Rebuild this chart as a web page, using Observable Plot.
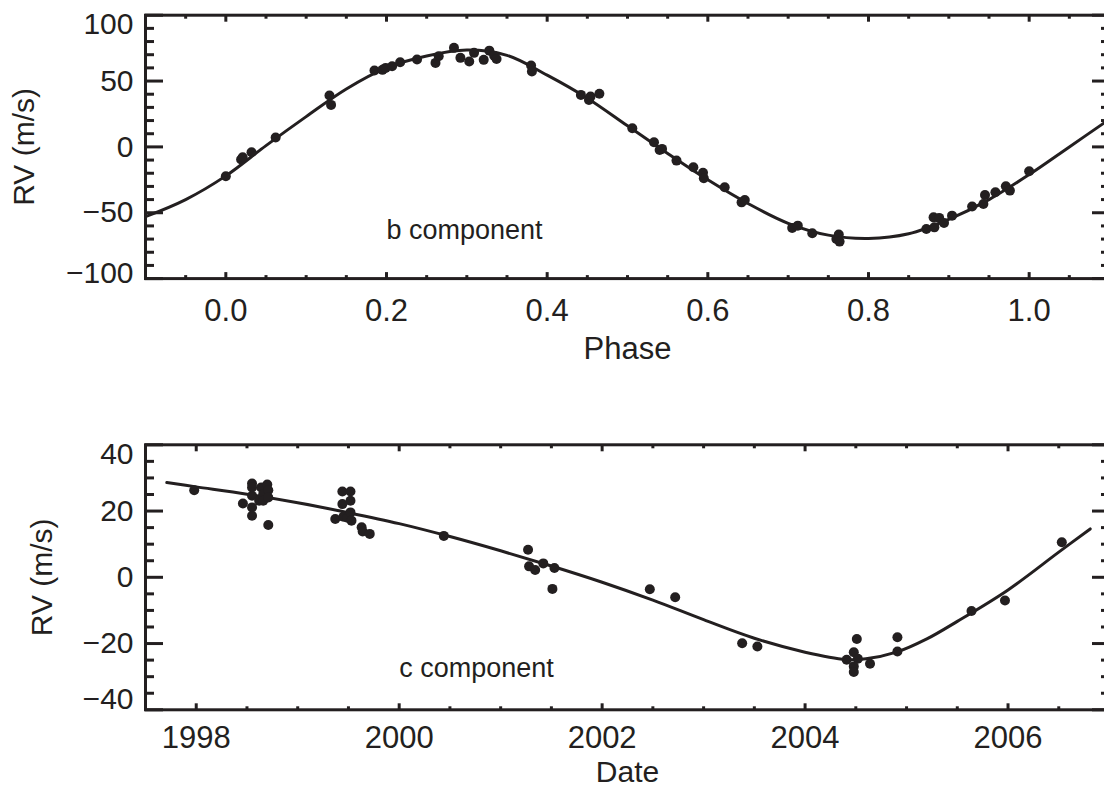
<!DOCTYPE html>
<html>
<head>
<meta charset="utf-8">
<script src="https://cdn.jsdelivr.net/npm/d3@7"></script>
<script src="https://cdn.jsdelivr.net/npm/@observablehq/plot@0.6"></script>
<style>
  html, body { margin: 0; padding: 0; background: #fff; overflow: hidden; }
  #wrap { position: relative; width: 1104px; height: 788px; }
  #wrap svg { position: absolute; left: 0; overflow: hidden; }
</style>
</head>
<body>
<div id="wrap"></div>
<script>
// ---------- b component (phase-folded) ----------
const phaseB = [0.000, 0.019, 0.021, 0.032, 0.062, 0.129, 0.131, 0.185, 0.195, 0.199, 0.207, 0.217, 0.238, 0.261, 0.265, 0.284, 0.292, 0.303, 0.309, 0.321, 0.328, 0.334, 0.337, 0.380, 0.381, 0.442, 0.452, 0.454, 0.465, 0.506, 0.533, 0.540, 0.543, 0.561, 0.582, 0.594, 0.595, 0.621, 0.642, 0.646, 0.705, 0.712, 0.730, 0.760, 0.763, 0.764, 0.872, 0.881, 0.882, 0.888, 0.894, 0.904, 0.929, 0.943, 0.945, 0.958, 0.971, 0.976, 1.000];
const rvB    = [-22.3, -9.6, -7.9, -4.1, 7.1, 39.0, 31.9, 58.0, 58.5, 60.0, 61.2, 64.3, 66.3, 63.8, 68.8, 75.2, 67.6, 64.8, 71.4, 66.1, 73.1, 69.3, 66.8, 61.8, 57.2, 39.5, 35.7, 38.2, 40.3, 14.1, 3.5, -2.3, -1.5, -10.4, -15.5, -19.7, -23.8, -30.7, -42.1, -40.3, -61.5, -59.8, -65.6, -69.9, -66.6, -71.9, -62.3, -53.5, -61.1, -53.9, -57.7, -52.2, -45.3, -43.3, -36.5, -34.5, -29.9, -33.2, -18.5];
const fitPhaseB = [-0.10, -0.05, 0.00, 0.05, 0.10, 0.15, 0.20, 0.25, 0.30, 0.35, 0.40, 0.45, 0.50, 0.55, 0.60, 0.65, 0.70, 0.75, 0.80, 0.85, 0.90, 0.95, 1.00, 1.05, 1.10];
const fitRvB    = [-53, -40, -22, 1, 23, 44, 60, 69, 73.5, 69.5, 54.5, 37, 16, -5, -25, -43, -58, -67, -69.5, -66, -55, -40, -21, 0, 21];
const phaseTicks = [0.0, 0.2, 0.4, 0.6, 0.8, 1.0];
const rvTicksB = [100, 50, 0, -50, -100];

// ---------- c component (time series) ----------
const dateC = [1997.98, 1998.46, 1998.55, 1998.55, 1998.55, 1998.55, 1998.55, 1998.62, 1998.64, 1998.66, 1998.66, 1998.70, 1998.71, 1998.71, 1998.71, 1999.37, 1999.44, 1999.44, 1999.45, 1999.49, 1999.52, 1999.52, 1999.52, 1999.53, 1999.63, 1999.64, 1999.71, 2000.44, 2001.27, 2001.28, 2001.34, 2001.42, 2001.53, 2001.51, 2002.47, 2002.72, 2003.38, 2003.53, 2004.41, 2004.48, 2004.51, 2004.52, 2004.48, 2004.48, 2004.64, 2004.91, 2004.91, 2005.64, 2005.97, 2006.53];
const rvC   = [26.3, 22.3, 28.3, 27.1, 24.6, 21.1, 18.6, 23.1, 27.1, 25.1, 23.1, 28.0, 26.3, 24.1, 15.8, 17.6, 25.9, 22.1, 18.3, 18.0, 25.9, 23.1, 19.6, 17.1, 15.1, 13.8, 13.1, 12.5, 8.3, 3.3, 2.2, 4.2, 2.8, -3.5, -3.6, -6.0, -19.9, -20.9, -24.9, -22.6, -18.6, -24.6, -26.9, -28.6, -26.1, -18.1, -22.4, -10.2, -7.0, 10.6];
const fitDateC = [1997.71, 1998.0, 1998.5, 1999.0, 1999.5, 2000.0, 2000.5, 2001.0, 2001.5, 2002.0, 2002.5, 2003.0, 2003.5, 2004.0, 2004.4, 2004.6, 2004.9, 2005.2, 2005.5, 2006.0, 2006.5, 2006.81];
const fitRvC   = [28.6, 27.3, 25.1, 22.5, 19.5, 16.2, 12.3, 8.0, 3.4, -1.5, -6.9, -12.8, -18.4, -22.6, -24.8, -24.6, -22.6, -18.6, -13.3, -3.8, 7.6, 14.6];
const dateTicks = [1998, 2000, 2002, 2004, 2006];
const rvTicksC = [40, 20, 0, -20, -40];

const ink = "#231f20";
const font = "Liberation Sans, Arial, Helvetica, sans-serif";

const ptsB = phaseB.map((p, i) => ({phase: p, rv: rvB[i]}));
const fitB = fitPhaseB.map((p, i) => ({phase: p, rv: fitRvB[i]}));
const ptsC = dateC.map((d, i) => ({date: d, rv: rvC[i]}));
const fitC = fitDateC.map((d, i) => ({date: d, rv: fitRvC[i]}));

function yAxes(ticks, minor, title, labelOffset, edgeDy) {
  const inner = ticks.slice(1, -1);
  return [
    Plot.axisY({ticks: inner, tickSize: 0, tickPadding: 12, fontSize: 30, label: title, labelAnchor: "center", labelArrow: "none", labelOffset}),
    Plot.axisY({ticks: [ticks[0]], tickSize: 0, tickPadding: 12, fontSize: 30, dy: edgeDy[0], label: null}),
    Plot.axisY({ticks: [ticks[ticks.length - 1]], tickSize: 0, tickPadding: 12, fontSize: 30, dy: edgeDy[1], label: null}),
    Plot.axisY({ticks, tickSize: -18, text: null, label: null, strokeWidth: 3}),
    Plot.axisY({ticks: minor, tickSize: -9, text: null, label: null, strokeWidth: 3}),
    Plot.axisY({anchor: "right", ticks, tickSize: -18, text: null, label: null, strokeWidth: 3}),
    Plot.axisY({anchor: "right", ticks: minor, tickSize: -9, text: null, label: null, strokeWidth: 3})
  ];
}
function xAxes(ticks, minor, title, labelOffset, fmt, tickPad, titleSize) {
  return [
    Plot.axisX({ticks, tickSize: 0, tickPadding: tickPad, fontSize: 31, tickFormat: fmt, label: null}),
    Plot.axisX({ticks: [], tickSize: 0, fontSize: titleSize, label: title, labelAnchor: "center", labelArrow: "none", labelOffset}),
    Plot.axisX({ticks, tickSize: -6, text: null, label: null, strokeWidth: 3}),
    Plot.axisX({ticks: minor, tickSize: -3, text: null, label: null, strokeWidth: 3}),
    Plot.axisX({anchor: "top", ticks, tickSize: -6, text: null, label: null, strokeWidth: 3}),
    Plot.axisX({anchor: "top", ticks: minor, tickSize: -3, text: null, label: null, strokeWidth: 3})
  ];
}

const topPlot = Plot.plot({
  width: 1104, height: 390,
  marginLeft: 145, marginRight: -5, marginTop: 14.7, marginBottom: 111.9,
  style: {fontFamily: font, color: ink, background: "white"},
  x: {domain: [-0.1, 1.1]},
  y: {domain: [-100, 100]},
  marks: [
    Plot.line(fitB, {x: "phase", y: "rv", curve: "catmull-rom", stroke: ink, strokeWidth: 3}),
    Plot.dot(ptsB, {x: "phase", y: "rv", r: 5, fill: ink}),
    Plot.text([{phase: 0.2, rv: -70, t: "b component"}], {x: "phase", y: "rv", text: "t", textAnchor: "start", lineAnchor: "bottom", fontSize: 27, fill: ink}),
    ...yAxes(rvTicksB, d3.range(-90, 100, 10).filter(v => v % 50 !== 0), "RV (m/s)", 133, [9, -5]),
    ...xAxes(phaseTicks, d3.range(-0.05, 1.1, 0.05).map(v => +v.toFixed(2)).filter(v => Math.round(v * 100) % 20 !== 0), "Phase", 80, d3.format(".1f"), 20, 31),
    Plot.frame({stroke: ink, strokeWidth: 3})
  ]
});

const bottomPlot = Plot.plot({
  width: 1104, height: 398,
  marginLeft: 145, marginRight: -5, marginTop: 54.3, marginBottom: 78.7,
  style: {fontFamily: font, color: ink, background: "white"},
  x: {domain: [1997.5, 2007]},
  y: {domain: [-40, 40]},
  marks: [
    Plot.line(fitC, {x: "date", y: "rv", curve: "catmull-rom", stroke: ink, strokeWidth: 3}),
    Plot.dot(ptsC, {x: "date", y: "rv", r: 5, fill: ink}),
    Plot.text([{date: 2000.0, rv: -30, t: "c component"}], {x: "date", y: "rv", text: "t", textAnchor: "start", lineAnchor: "bottom", fontSize: 27, fill: ink}),
    ...yAxes(rvTicksC, d3.range(-35, 40, 5).filter(v => v % 20 !== 0), "RV (m/s)", 115, [10, -10]),
    ...xAxes(dateTicks, d3.range(1997.5, 2007.01, 0.5).filter(v => !(v % 2 === 0)), "Date", 72, d3.format("d"), 16, 30),
    Plot.frame({stroke: ink, strokeWidth: 3})
  ]
});

const wrap = document.getElementById("wrap");
topPlot.style.top = "0px";
bottomPlot.style.top = "390px";
wrap.appendChild(topPlot);
wrap.appendChild(bottomPlot);
</script>
</body>
</html>
